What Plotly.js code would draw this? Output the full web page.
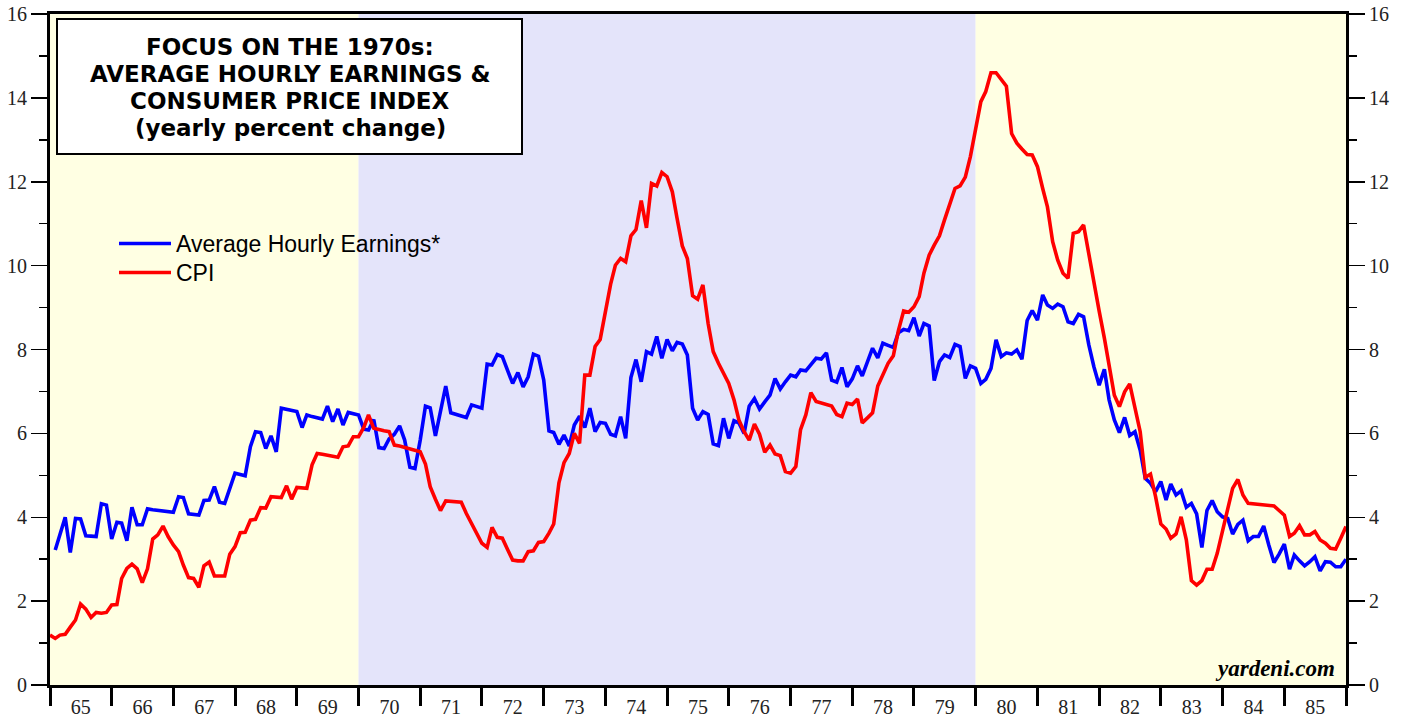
<!DOCTYPE html>
<html>
<head>
<meta charset="utf-8">
<script src="https://cdn.plot.ly/plotly-3.0.1.min.js"></script>
<style>html,body{margin:0;padding:0;background:#fff}#chart{width:1405px;height:719px}</style>
</head>
<body>
<div id="chart"></div>
<script>
// Monthly yearly percent change
const aheStart = [1965, 2];   // Feb 1965
const cpiStart = [1965, 1];   // Jan 1965

const aheValues = [
 3.22,3.60,4.00,3.16,3.97,3.96,3.56,3.55,3.54,4.32,4.29,
 3.48,3.88,3.86,3.44,4.24,3.82,3.82,4.20,4.18,4.17,4.15,4.14,
 4.12,4.49,4.47,4.08,4.07,4.05,4.40,4.41,4.73,4.36,4.33,4.70,
 5.05,5.02,4.99,5.68,6.04,6.02,5.64,5.94,5.56,6.60,6.57,6.55,
 6.52,6.14,6.44,6.40,6.37,6.34,6.65,6.28,6.58,6.20,6.50,6.47,
 6.44,6.10,6.08,6.33,5.66,5.64,5.87,5.98,6.18,5.84,5.19,5.16,
 5.84,6.65,6.61,5.94,6.55,7.13,6.49,6.46,6.42,6.38,6.68,6.64,
 6.60,7.65,7.63,7.88,7.83,7.50,7.19,7.45,7.11,7.35,7.89,7.84,
 7.27,6.06,6.02,5.74,5.96,5.70,6.20,6.41,6.14,6.60,6.04,6.26,
 6.24,5.98,5.94,6.40,5.88,7.33,7.76,7.23,7.95,7.89,8.31,7.79,
 8.24,7.97,8.17,8.13,7.87,6.60,6.32,6.52,6.45,5.75,5.71,6.36,
 5.88,6.30,6.25,6.00,6.65,6.83,6.58,6.75,6.91,7.31,7.06,7.23,
 7.39,7.35,7.51,7.49,7.65,7.79,7.77,7.92,7.27,7.22,7.57,7.11,
 7.30,7.61,7.37,7.71,8.03,7.80,8.15,8.10,8.05,8.40,8.48,8.45,
 8.76,8.32,8.62,8.56,7.26,7.71,7.87,7.81,8.12,8.07,7.31,7.61,
 7.55,7.19,7.29,7.55,8.23,7.83,7.92,7.89,7.99,7.77,8.69,8.93,
 8.70,9.30,9.06,8.98,9.08,9.02,8.66,8.62,8.84,8.78,8.11,7.59,
 7.15,7.53,6.80,6.32,6.02,6.38,5.95,6.04,5.60,4.93,4.81,4.61,
 4.85,4.41,4.79,4.53,4.63,4.24,4.33,4.08,3.28,4.16,4.40,4.13,
 4.01,3.97,3.60,3.83,3.93,3.44,3.54,3.54,3.79,3.34,2.92,3.12,
 3.36,2.76,3.10,2.96,2.84,2.94,3.06,2.72,2.94,2.93,2.82,2.82,
 3.00
];

const cpiValues = [
 1.19,1.11,1.19,1.21,1.38,1.55,1.93,1.81,1.61,1.73,1.71,1.73,
 1.91,1.92,2.54,2.78,2.88,2.77,2.44,2.77,3.48,3.58,3.79,3.54,
 3.34,3.18,2.86,2.56,2.54,2.33,2.84,2.93,2.60,2.60,2.60,3.12,
 3.30,3.63,3.64,3.93,3.95,4.23,4.22,4.49,4.48,4.47,4.75,4.43,
 4.71,4.70,4.69,5.25,5.52,5.50,5.48,5.45,5.43,5.68,5.70,5.92,
 5.92,6.14,6.44,6.12,6.08,6.06,6.04,5.72,5.70,5.67,5.63,5.60,
 5.56,5.27,4.73,4.43,4.16,4.39,4.38,4.37,4.36,4.09,3.85,3.62,
 3.38,3.28,3.76,3.52,3.50,3.23,2.98,2.96,2.96,3.18,3.20,3.40,
 3.42,3.62,3.84,4.82,5.30,5.52,6.00,5.76,7.39,7.39,8.07,8.24,
 8.94,9.56,10.01,10.17,10.09,10.71,10.86,11.55,10.90,11.96,11.90,12.22,
 12.12,11.76,11.13,10.47,10.17,9.28,9.20,9.54,8.62,7.95,7.67,7.43,
 7.19,6.80,6.32,6.04,5.84,6.22,5.98,5.55,5.72,5.51,5.47,5.09,
 5.05,5.21,6.09,6.44,6.97,6.76,6.72,6.69,6.65,6.45,6.40,6.72,
 6.69,6.82,6.25,6.37,6.49,7.13,7.42,7.67,7.85,8.45,8.92,8.89,
 9.02,9.26,9.82,10.25,10.49,10.71,11.09,11.45,11.84,11.90,12.11,12.60,
 13.25,13.91,14.15,14.60,14.60,14.45,14.28,13.15,12.92,12.78,12.65,12.64,
 12.36,11.84,11.40,10.57,10.13,9.82,9.70,10.77,10.81,10.97,10.25,9.58,
 8.92,8.27,7.59,6.91,6.64,6.99,7.18,6.60,6.04,4.95,5.03,4.49,
 3.84,3.72,3.50,3.60,4.01,3.46,2.49,2.38,2.49,2.76,2.76,3.14,
 3.66,4.17,4.69,4.90,4.53,4.33,4.32,4.31,4.30,4.29,4.27,4.16,
 4.05,3.54,3.62,3.80,3.58,3.58,3.66,3.46,3.38,3.26,3.24,3.50,
 3.78
];

const seriesNames = ['Average Hourly Earnings*', 'CPI'];
const seriesColors = ['#0000ff', '#ff0000'];
const periods = [
  {from: '1965-01-01', to: '1970-01-01', color: '#ffffe3'},
  {from: '1970-01-01', to: '1980-01-01', color: '#e4e4fa'},
  {from: '1980-01-01', to: '1986-01-01', color: '#ffffe3'}
];
const titleLines = ['FOCUS ON THE 1970s:', 'AVERAGE HOURLY EARNINGS &', 'CONSUMER PRICE INDEX', '(yearly percent change)'];
const yTicks = [0,2,4,6,8,10,12,14,16];

function monthDates(start, n) {
  const out = [];
  for (let i = 0; i < n; i++) {
    const m = start[1] - 1 + i;
    const y = start[0] + Math.floor(m / 12);
    const mm = (m % 12) + 1;
    out.push(y + '-' + (mm < 10 ? '0' + mm : mm) + '-01');
  }
  return out;
}

const traces = [
  {x: monthDates(aheStart, aheValues.length), y: aheValues, name: seriesNames[0], type: 'scatter', mode: 'lines',
   line: {color: seriesColors[0], width: 3.6}, legend: 'legend'},
  {x: monthDates(cpiStart, cpiValues.length), y: cpiValues, name: seriesNames[1], type: 'scatter', mode: 'lines',
   line: {color: seriesColors[1], width: 3.6}, legend: 'legend2'},
  {x: ['1965-01-01'], y: [0], yaxis: 'y2', showlegend: false, hoverinfo: 'skip', mode: 'markers', marker: {opacity: 0}}
];

// plot area in pixels: x 50..1346, y 14..685
const PW = 1296, PH = 671;
function px(x) { return (x - 50) / PW; }
function py(y) { return (685 - y) / PH; }

const shapes = periods.map(p => ({type: 'rect', xref: 'x', yref: 'paper', x0: p.from, x1: p.to, y0: 0, y1: 1,
  fillcolor: p.color, line: {width: 0}, layer: 'below'}));
shapes.push({type: 'rect', xref: 'paper', yref: 'paper', x0: px(57), x1: px(522), y0: py(154), y1: py(19),
  fillcolor: '#ffffff', line: {color: '#000', width: 2}, layer: 'above'});

const tickFont = {family: 'Liberation Serif, Times New Roman, serif', size: 20, color: '#222'};
const titleFont = {family: 'DejaVu Sans, Verdana, sans-serif', size: 23, color: '#000'};
const titleY = [47, 74, 101, 128];

const annotations = titleLines.map((t, i) => ({xref: 'paper', yref: 'paper', x: px(290), y: py(titleY[i]),
  xanchor: 'center', yanchor: 'middle', text: '<b>' + t + '</b>', showarrow: false, font: titleFont}));
annotations.push({xref: 'paper', yref: 'paper', x: px(1337), y: py(668), xanchor: 'right', yanchor: 'middle',
  text: '<b><i>yardeni.com</i></b>', showarrow: false,
  font: {family: 'Liberation Serif, Times New Roman, serif', size: 23, color: '#000'}});

const legendFont = {family: 'Liberation Sans, Arial, sans-serif', size: 23, color: '#000'};

const layout = {
  width: 1405, height: 719,
  margin: {l: 50, r: 59, t: 14, b: 34},
  paper_bgcolor: '#ffffff', plot_bgcolor: 'rgba(0,0,0,0)',
  showlegend: true,
  legend: {x: px(114), y: py(222), xanchor: 'left', yanchor: 'top', bgcolor: 'rgba(0,0,0,0)', itemwidth: 52, font: legendFont},
  legend2: {x: px(114), y: py(251), xanchor: 'left', yanchor: 'top', bgcolor: 'rgba(0,0,0,0)', itemwidth: 52, font: legendFont},
  xaxis: {type: 'date', range: ['1965-01-01', '1986-01-01'], dtick: 'M12', tick0: '1965-01-01',
          tickformat: '%y', ticklabelmode: 'period', ticks: 'outside', ticklen: 18, tickwidth: 3, tickcolor: '#000',
          ticklabelstandoff: -16,
          showline: true, linewidth: 3, linecolor: '#000', mirror: true, showgrid: false, zeroline: false,
          tickfont: tickFont},
  yaxis: {range: [0, 16], tickvals: yTicks, ticks: 'outside', ticklen: 16, tickwidth: 1.5, tickcolor: '#000',
          minor: {dtick: 1, ticks: 'outside', ticklen: 8, tickwidth: 1.5, tickcolor: '#000', showgrid: false},
          showline: true, linewidth: 3, linecolor: '#000', mirror: true, showgrid: false, zeroline: false,
          tickfont: tickFont},
  yaxis2: {range: [0, 16], tickvals: yTicks, overlaying: 'y', side: 'right', ticks: 'outside', ticklen: 16, tickwidth: 1.5, tickcolor: '#000',
          minor: {dtick: 1, ticks: 'outside', ticklen: 8, tickwidth: 1.5, tickcolor: '#000', showgrid: false},
          showline: true, linewidth: 3, linecolor: '#000', showgrid: false, zeroline: false,
          tickfont: tickFont},
  shapes: shapes,
  annotations: annotations
};

Plotly.newPlot('chart', traces, layout, {displayModeBar: false, staticPlot: true});
</script>
</body>
</html>
